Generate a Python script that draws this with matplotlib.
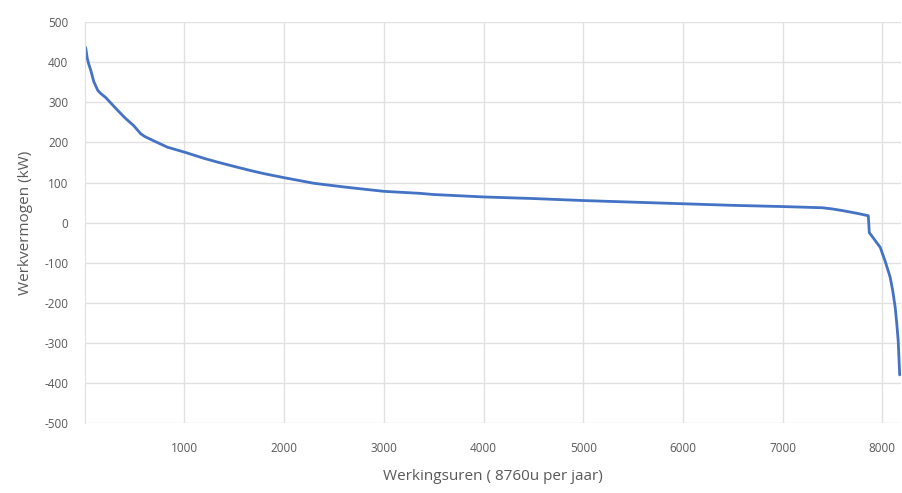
import matplotlib.pyplot as plt
import numpy as np

# load duration curve: operating hours (sorted) vs. power
hours = [1, 10, 25, 40, 60, 90, 130, 160, 210, 330, 400, 490, 560, 600, 700,
         830, 900, 1010, 1200, 1330, 1500, 1660, 1800, 2000, 2300, 2630, 3000,
         3360, 3500, 4000, 4500, 5000, 5500, 6000, 6500, 7000, 7400, 7500, 7600,
         7750, 7860, 7870, 7900, 7930, 7980, 8030, 8080, 8105, 8130, 8145,
         8160, 8175]
power = [440, 435, 410, 395, 380, 352, 330, 322, 312, 280, 262, 242, 222, 215,
         203, 188, 183, 175, 160, 151, 140, 130, 122, 112, 98, 88, 78,
         73, 70, 64, 60, 55, 51, 47, 43, 40, 37, 34, 30,
         23, 17, -25, -35, -45, -62, -97, -137, -170, -212, -250,
         -295, -380]

x_ticks = [1000, 2000, 3000, 4000, 5000, 6000, 7000, 8000]
y_ticks = [-500, -400, -300, -200, -100, 0, 100, 200, 300, 400, 500]

plt.rcParams['font.family'] = ['Open Sans', 'DejaVu Sans']
plt.rcParams['axes.unicode_minus'] = False

fig = plt.figure(figsize=(9.03, 4.93), dpi=100)
ax = fig.add_axes([0.094, 0.142, 0.904, 0.813])

ax.plot(hours, power, color='#4472C4', linewidth=2.0,
        solid_joinstyle='round', solid_capstyle='round')

ax.set_xlim(1, 8190)
ax.set_ylim(-500, 500)
ax.set_xticks(x_ticks)
ax.set_yticks(y_ticks)
ax.grid(True, color='#e1e1e1', linewidth=1.0)
ax.set_axisbelow(True)

for side in ['top', 'right', 'bottom']:
    ax.spines[side].set_visible(False)
ax.spines['left'].set_color('#e1e1e1')
ax.tick_params(length=0, labelsize=8.5, colors='#595959')
ax.tick_params(axis='x', pad=14)
ax.tick_params(axis='y', pad=12)

ax.set_xlabel('Werkingsuren ( 8760u per jaar)', fontsize=11, color='#595959', labelpad=10)
ax.set_ylabel('Werkvermogen (kW)', fontsize=11, color='#595959', labelpad=8)

fig.savefig('out.png', dpi=100)
